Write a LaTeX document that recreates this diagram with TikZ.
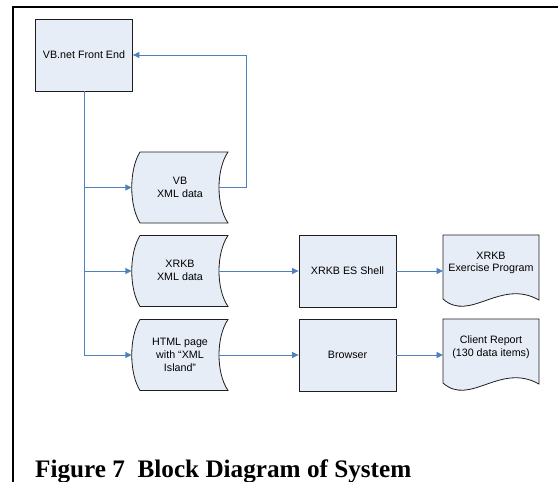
\documentclass[tikz,border=0pt]{standalone}
\usepackage{fontspec}
\setmainfont{Liberation Serif}
\newfontfamily\arialfont{Liberation Sans}
\usetikzlibrary{arrows.meta}
\definecolor{shapefill}{HTML}{E7EDF7}
\definecolor{linkblue}{HTML}{4F81BD}
\definecolor{edgegray}{HTML}{1E1E1E}
\tikzset{
  box/.style={draw=edgegray, line width=0.8pt, fill=shapefill, minimum width=97pt, minimum height=72pt, inner sep=0pt, font=\arialfont\fontsize{10.7}{12.8}\selectfont},
  shapeline/.style={draw=edgegray, line width=0.8pt, fill=shapefill},
  lbl/.style={align=center, inner sep=0pt, font=\arialfont\fontsize{10.7}{12.8}\selectfont},
  link/.style={draw=linkblue, line width=0.9pt},
  arrowlink/.style={link, -{Triangle[length=6.5pt,width=6pt]}},
  frameline/.style={draw=black}
}
\newcommand\StoredData[3]{%
  \path[shapeline, shift={(#1,#2)}] (-40,-35.5) -- (48,-35.5) .. controls (36,-18) and (36,18) .. (48,35.5) -- (-40,35.5) .. controls (-51,18) and (-51,-18) .. (-40,-35.5) -- cycle;
  \coordinate (#3-in) at (#1-48.2,#2);
  \coordinate (#3-out) at (#1+39,#2);
}
\newcommand\DocShape[2]{%
  \path[shapeline, shift={(#1,#2)}] (-48,0) -- (48,0) -- (48,65) .. controls (9,43) and (-21,88) .. (-48,64) -- cycle;
}
\begin{document}
\begin{tikzpicture}[x=1pt,y=-1pt]
\useasboundingbox (0,0) rectangle (558,482);
% frame
\draw[frameline, line width=2.2pt] (12.4,7) -- (558,7);
\draw[frameline, line width=1.3pt] (13,6) -- (13,482);

% front end
\node[box] (vbnet) at (84,55) {VB.net Front End};

% stored data shapes
\StoredData{180}{187.5}{vbdata}
\node[lbl] (vbdatatext) at (180,187) {VB\\XML data};
\StoredData{180}{271}{xrkbdata}
\node[lbl] (xrkbdatatext) at (180,270) {XRKB\\XML data};
\StoredData{180}{355}{htmldata}
\node[lbl] (htmldatatext) at (180,355) {HTML page\\with “XML\\Island”};

% process boxes
\node[box] (shell) at (347.5,271) {XRKB ES Shell};
\node[box] (browser) at (347.5,355) {Browser};

% documents
\DocShape{491}{235}
\node[lbl] (xrkbdoc) at (491,263) {XRKB\\Exercise Program};
\coordinate (xrkbdoc-in) at (443,271);
\DocShape{491}{319}
\node[lbl] (report) at (491,347) {Client Report\\(130 data items)};
\coordinate (report-in) at (443,355);

% trunk
\coordinate (t1) at (vbnet.south |- vbdata-in);
\coordinate (t2) at (vbnet.south |- xrkbdata-in);
\coordinate (t3) at (vbnet.south |- htmldata-in);
\draw[link] (vbnet.south) -- (t3);
\draw[arrowlink] (t1) -- (vbdata-in);
\draw[arrowlink] (t2) -- (xrkbdata-in);
\draw[arrowlink] (t3) -- (htmldata-in);

% feedback
\coordinate (fb) at (246,187.5);
\draw[arrowlink] (vbdata-out) -- (fb) |- (vbnet.east);

% flows
\draw[arrowlink] (xrkbdata-out) -- (shell.west);
\draw[arrowlink] (shell.east) -- (xrkbdoc-in);
\draw[arrowlink] (htmldata-out) -- (browser.west);
\draw[arrowlink] (browser.east) -- (report-in);

% caption
\node[anchor=base west, inner sep=0pt, font=\bfseries\fontsize{25.2}{30}\selectfont] (caption) at (35,477) {Figure 7\ \ Block Diagram of System};
\end{tikzpicture}
\end{document}
